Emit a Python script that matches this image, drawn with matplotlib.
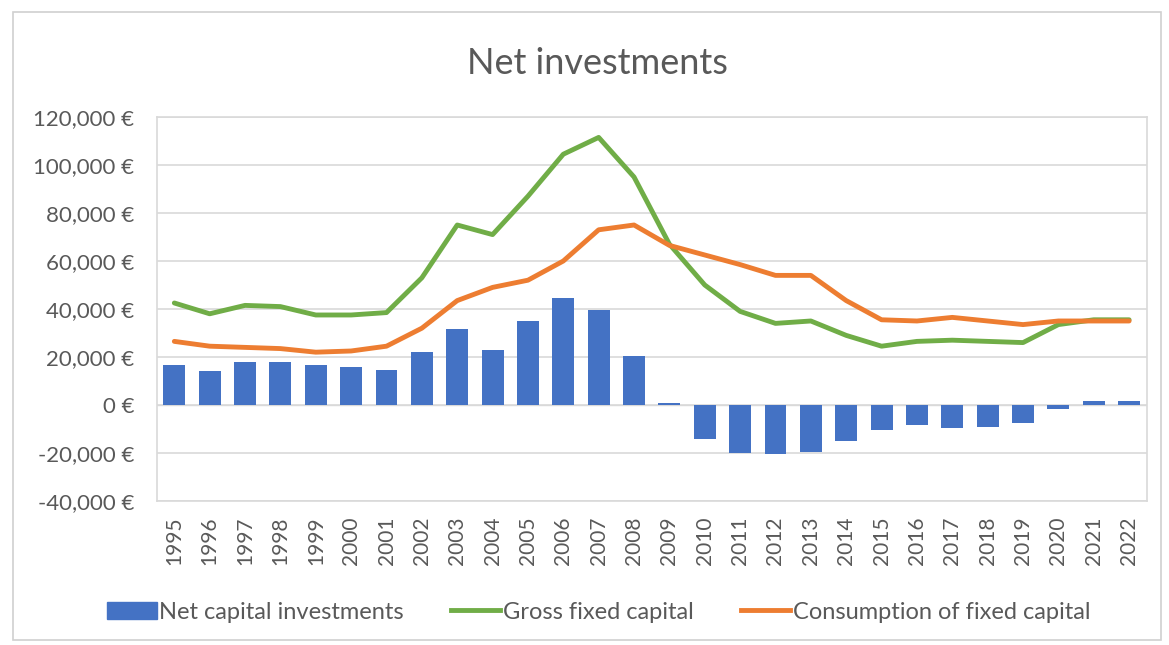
import matplotlib
matplotlib.use("Agg")
import matplotlib.pyplot as plt
from matplotlib.patches import Rectangle, Patch
from matplotlib.lines import Line2D
from matplotlib.ticker import FuncFormatter

years = [str(y) for y in range(1995, 2023)]

net_capital = [16500, 14000, 18000, 18000, 16500, 16000, 14500, 22000, 31500, 23000,
               35000, 44500, 39500, 20500, 1000, -14000, -20000, -20500, -19500, -15000,
               -10500, -8500, -9500, -9000, -7500, -1500, 1500, 1500]
gross_fixed = [42500, 38000, 41500, 41000, 37500, 37500, 38500, 53000, 75000, 71000,
               87000, 104500, 111500, 95000, 67000, 50000, 39000, 34000, 35000, 29000,
               24500, 26500, 27000, 26500, 26000, 33500, 35500, 35500]
consumption = [26500, 24500, 24000, 23500, 22000, 22500, 24500, 32000, 43500, 49000,
               52000, 60000, 73000, 75000, 66500, 62500, 58500, 54000, 54000, 43500,
               35500, 35000, 36500, 35000, 33500, 35000, 35000, 35000]

BLUE = "#4472C4"
GREEN = "#70AD47"
ORANGE = "#ED7D31"
TEXT = "#595959"

plt.rcParams["font.family"] = ["Lato", "DejaVu Sans"]

fig = plt.figure(figsize=(11.69, 6.45), dpi=100)
ax = fig.add_axes([0.134, 0.2233, 0.847, 0.5953])

# outer chart frame
fig.patches.append(Rectangle((0.011, 0.008), 0.982, 0.974, transform=fig.transFigure,
                             fill=False, edgecolor="#d0d0d0", linewidth=1.2))

x = range(len(years))
ax.bar(x, net_capital, width=0.62, color=BLUE, zorder=2)
ax.plot(x, gross_fixed, color=GREEN, linewidth=3.5, zorder=3, solid_capstyle="round")
ax.plot(x, consumption, color=ORANGE, linewidth=3.5, zorder=3, solid_capstyle="round")

ax.set_ylim(-40000, 120000)
ax.set_yticks(range(-40000, 120001, 20000))
ax.yaxis.set_major_formatter(FuncFormatter(lambda v, p: f"{int(v):,} €"))
ax.set_xlim(-0.5, len(years) - 0.5)
ax.set_xticks(list(x))
ax.set_xticklabels(years, rotation=90)

ax.grid(axis="y", color="#d9d9d9", linewidth=1.2, zorder=0)
ax.axhline(0, color="#d9d9d9", linewidth=1, zorder=1)
for s in ax.spines.values():
    s.set_color("#d9d9d9")
    s.set_linewidth(1.2)
ax.tick_params(length=0, colors=TEXT)
ax.tick_params(axis="y", labelsize=16, pad=16)
ax.tick_params(axis="x", labelsize=15, pad=11)

fig.text(0.511, 0.902, "Net investments", ha="center", va="center", fontsize=26, color=TEXT)

handles = [Patch(color=BLUE), Line2D([], [], color=GREEN, linewidth=3.5),
           Line2D([], [], color=ORANGE, linewidth=3.5)]
labels = ["Net capital investments", "Gross fixed capital", "Consumption of fixed capital"]
leg = fig.legend(handles, labels, loc="center", bbox_to_anchor=(0.512, 0.051), ncol=3,
                 frameon=False, fontsize=17, handlelength=2.1, handletextpad=0.1,
                 columnspacing=2.0)
for t in leg.get_texts():
    t.set_color(TEXT)

fig.savefig("out.png", dpi=100, facecolor="white")
